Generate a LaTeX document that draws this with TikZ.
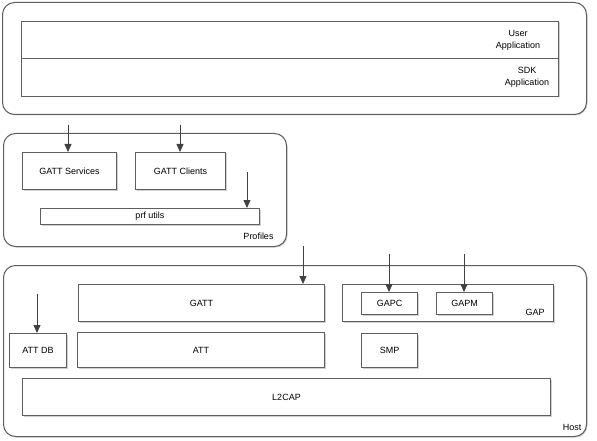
\documentclass[tikz,border=0pt]{standalone}
\usepackage{fontspec}
\setmainfont{Liberation Sans}
\usetikzlibrary{shadows,arrows.meta}
\definecolor{edge}{HTML}{5F5F5F}
\definecolor{arrc}{HTML}{404040}
\tikzset{
  box/.style={draw=edge, line width=1pt, fill=white, anchor=north west, inner sep=0pt,
    drop shadow={shadow xshift=1pt, shadow yshift=-1pt, fill=black!30, opacity=0.6}},
  outer/.style={box, rounded corners=12pt},
  lbl/.style={font=\fontsize{9}{12}\selectfont, inner sep=0pt, align=center},
  arr/.style={draw=arrc, line width=0.8pt, -{Triangle[length=8pt,width=7pt]}},
}
\newcommand{\bx}[6]{\node[#1, minimum width=#4pt-#2pt, minimum height=#5pt-#3pt] (#6) at (#2,#3) {};}
\begin{document}
\begin{tikzpicture}[x=1pt,y=-1pt]
\useasboundingbox (0,0) rectangle (597,441);
% top application box
\bx{outer}{2}{2}{586}{114}{app}
\bx{box}{21}{21}{558}{58}{user}
\bx{box}{21}{58}{558}{96}{sdk}
\node[lbl] (userlbl) at (518,40) {User\\Application};
\node[lbl] (sdklbl) at (527,77.5) {SDK\\Application};
% profiles
\bx{outer}{3}{133}{286}{246}{prof}
\bx{box}{22}{152}{116}{189}{gs}
\bx{box}{135}{152}{225}{189}{gc}
\bx{box}{40}{208}{259}{224}{prf}
\node[lbl] at (gs.center) {GATT Services};
\node[lbl] at (gc.center) {GATT Clients};
\node[lbl] at (prf.center) {prf utils};
\node[lbl] (proflbl) at (258.5,236) {Profiles};
% host
\bx{outer}{3}{265}{586}{436}{host}
\bx{box}{78}{284}{324}{321}{gatt}
\bx{box}{342}{284}{553}{321}{gap}
\bx{box}{361}{292}{417}{314}{gapc}
\bx{box}{436}{292}{492}{314}{gapm}
\bx{box}{9}{333}{66}{367}{attdb}
\bx{box}{77}{332}{324}{367}{att}
\bx{box}{361}{333}{417}{367}{smp}
\bx{box}{22}{378}{550}{415}{l2cap}
\node[lbl] at (gatt.center) {GATT};
\node[lbl] at (gapc.center) {GAPC};
\node[lbl] at (gapm.center) {GAPM};
\node[lbl] (gaplbl) at (535,312) {GAP};
\node[lbl] at (attdb.center) {ATT DB};
\node[lbl] at (att.center) {ATT};
\node[lbl] at (smp.center) {SMP};
\node[lbl] at (l2cap.center) {L2CAP};
\node[lbl] (hostlbl) at (572,427) {Host};
% arrows
\coordinate (s1) at (68,125);
\coordinate (s2) at (180,125);
\coordinate (s3) at (247,172);
\coordinate (s4) at (303,246);
\coordinate (s5) at (389,254);
\coordinate (s6) at (464,254);
\coordinate (s7) at (37,294);
\draw[arr] (s1) -- (s1 |- gs.north);
\draw[arr] (s2) -- (s2 |- gc.north);
\draw[arr] (s3) -- (s3 |- prf.north);
\draw[arr] (s4) -- (s4 |- gatt.north);
\draw[arr] (s5) -- (s5 |- gapc.north);
\draw[arr] (s6) -- (s6 |- gapm.north);
\draw[arr] (s7) -- (s7 |- attdb.north);
\end{tikzpicture}
\end{document}
